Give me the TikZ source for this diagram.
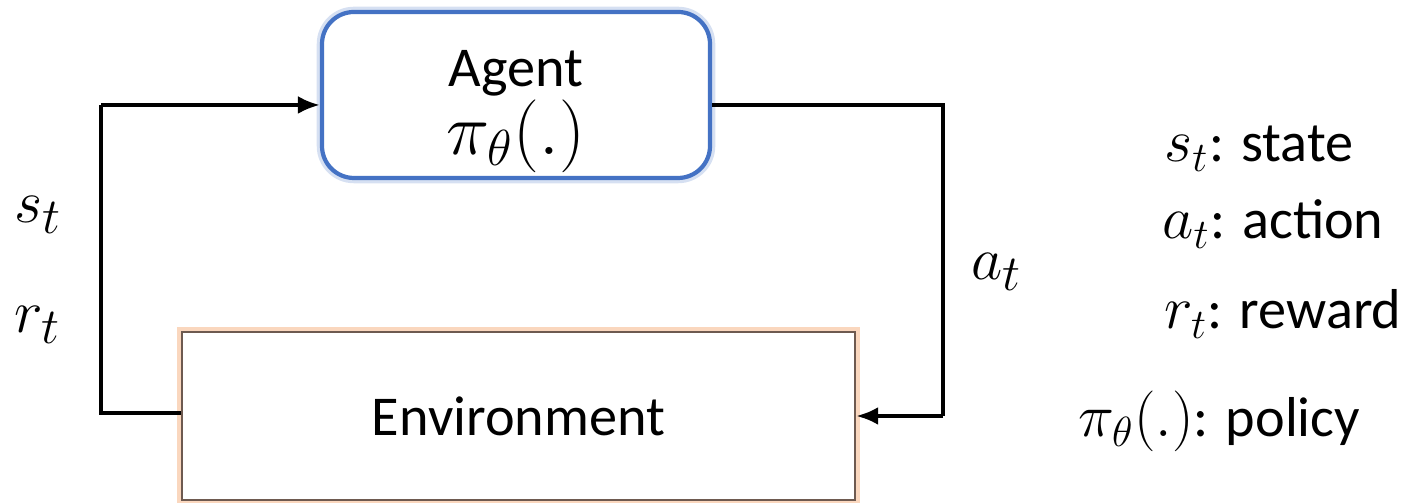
\documentclass[tikz,border=0pt]{standalone}
\usepackage{fontspec}
\setmainfont{Carlito}
\usetikzlibrary{arrows.meta}
\definecolor{agentblue}{RGB}{68,114,196}
\definecolor{envbrown}{RGB}{110,90,80}
\definecolor{envglow}{RGB}{250,215,190}

\newcommand{\symsize}{\fontsize{19}{22}\selectfont}
\newcommand{\legsize}{\fontsize{17}{20}\selectfont}
\newcommand{\txtsize}{\fontsize{16}{19}\selectfont}

\begin{document}
\begin{tikzpicture}[
  link/.style={black,line width=1.1pt},
  flow/.style={link,-{Latex[length=2.2mm,width=1.8mm]}},
  txt/.style={font=\txtsize,text=black},
  sym/.style={font=\symsize,text=black}]
\useasboundingbox (0,0) rectangle (14.06,5.03);

\node[draw=agentblue!22,line width=3pt,rounded corners=0.32cm,minimum width=3.88cm,minimum height=1.66cm] (glowA) at (5.16,4.08) {};
\node[draw=agentblue,line width=1.2pt,rounded corners=0.32cm,minimum width=3.88cm,minimum height=1.66cm,fill=white] (agent) at (5.16,4.08) {};
\node[txt,anchor=base] (agentname) at (5.16,4.16) {Agent};
\node[font=\fontsize{21}{24}\selectfont,anchor=base] (agentpol) at (5.16,3.48) {$\pi_\theta(.)$};

\node[draw=envglow,line width=3pt,minimum width=6.73cm,minimum height=1.68cm] (glowE) at (5.185,0.87) {};
\node[draw=envbrown,line width=0.7pt,minimum width=6.73cm,minimum height=1.68cm,fill=white] (env) at (5.185,0.87) {};
\node[txt] (envname) at (5.185,0.87) {Environment};

\coordinate (lt) at (1.01,3.98);
\coordinate (lb) at (1.01,0.90);
\coordinate (rt) at (9.43,3.98);
\coordinate (rb) at (9.43,0.87);
\draw[link] (env.west |- lb) -- (lb) -- (lt);
\draw[flow] (lt) -- (agent.west |- lt);
\draw[link] (agent.east |- rt) -- (rt) -- (rb);
\draw[flow] (rb) -- (env.east |- rb);

\node[sym] (st) at (0.38,2.88) {$s_t$};
\node[sym] (rtl) at (0.38,1.78) {$r_t$};
\node[sym] (at) at (9.97,2.31) {$a_t$};

\node[anchor=base west] (legs) at (11.52,3.41) {{\legsize$s_t$}\txtsize: state};
\node[anchor=base west] (lega) at (11.50,2.64) {{\legsize$a_t$}\txtsize: action};
\node[anchor=base west] (legr) at (11.52,1.74) {{\legsize$r_t$}\txtsize: reward};
\node[anchor=base west] (legp) at (10.66,0.66) {{\legsize$\pi_\theta(.)$}\txtsize: policy};
\end{tikzpicture}
\end{document}
